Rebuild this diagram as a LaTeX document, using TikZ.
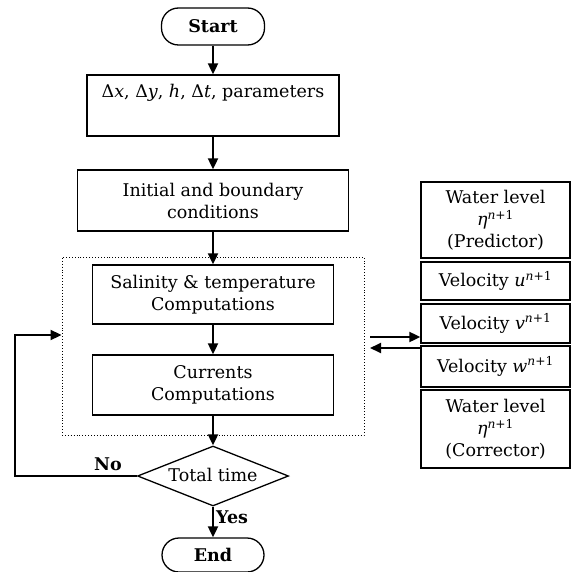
\documentclass[tikz,border=0pt]{standalone}
\usepackage{fontspec}
\setmainfont{DejaVu Serif}
\usetikzlibrary{arrows.meta,shapes.geometric}
\begin{document}
\begin{tikzpicture}[x=1pt,y=-1pt,
  txt/.style={font=\fontsize{17.5}{22}\selectfont},
  box/.style={draw, line width=1.3pt, inner sep=0pt, align=center, txt},
  term/.style={box, rounded corners=17pt, font=\fontsize{17.5}{22}\selectfont\bfseries},
  arr/.style={line width=1.9pt, -{Triangle[length=11pt,width=10pt]}},
  lbl/.style={font=\fontsize{17.5}{22}\selectfont\bfseries, inner sep=0pt},
]
\useasboundingbox (0,0) rectangle (572,572);
% main column
\node[term, minimum width=103pt, minimum height=37pt] (start) at (213,26.5) {Start};
\node[box, minimum width=252pt, minimum height=61pt] (par) at (213,105.5)
  {Δ\textit{x}, Δ\textit{y}, \textit{h}, Δ\textit{t}, parameters\\ \strut};
\node[box, minimum width=271pt, minimum height=61pt] (ini) at (213,200.5)
  {Initial and boundary\\ conditions};
\node[draw, dotted, line width=0.9pt, minimum width=302pt, minimum height=178pt, inner sep=0pt] (grp) at (213,346) {};
\node[box, minimum width=241pt, minimum height=59pt] (sal) at (213,294.5)
  {Salinity \& temperature\\ Computations};
\node[box, minimum width=241pt, minimum height=60pt] (cur) at (213,385)
  {Currents\\ Computations};
\node[box, diamond, aspect=2.5, minimum width=151pt, minimum height=60pt] (tt) at (213,476) {\raisebox{3pt}{Total time}};
\node[term, minimum width=102pt, minimum height=34pt] (end) at (213,555) {End};
% right stack
\node[box, minimum width=149pt, minimum height=76pt] (wp) at (495.5,220)
  {Water level\\ \textit{η}\textsuperscript{\textit{n}+1}\\ (Predictor)};
\node[box, minimum width=149pt, minimum height=38pt] (vu) at (495.5,281)
  {\raisebox{2pt}{Velocity \textit{u}\textsuperscript{\textit{n}+1}}};
\node[box, minimum width=149pt, minimum height=39pt] (vv) at (495.5,323.5)
  {\raisebox{2pt}{Velocity \textit{v}\textsuperscript{\textit{n}+1}}};
\node[box, minimum width=149pt, minimum height=41pt] (vw) at (495.5,366.5)
  {\raisebox{2pt}{Velocity \textit{w}\textsuperscript{\textit{n}+1}}};
\node[box, minimum width=149pt, minimum height=78pt] (wc) at (495.5,429)
  {Water level\\ \textit{η}\textsuperscript{\textit{n}+1}\\ (Corrector)};
% connectors
\draw[arr] (start) -- (par);
\draw[arr] (par) -- (ini);
\draw[arr] (ini) -- (sal);
\draw[arr] (sal) -- (cur);
\draw[arr] (cur) -- (tt);
\draw[arr] (tt) -- (end);
\coordinate (c1) at (15,476);
\coordinate (c2) at (15,335);
\draw[arr] (tt.west) -- (c1) -- (c2) -- (c2 -| grp.west);
\coordinate (a1) at (370,337);
\coordinate (a2) at (370,348);
\draw[arr] (a1) -- (a1 -| wp.west);
\draw[arr] (a2 -| wp.west) -- (a2);
% labels
\node[lbl] (no) at (108,464) {No};
\node[lbl] (yes) at (232,517) {Yes};
\end{tikzpicture}
\end{document}
